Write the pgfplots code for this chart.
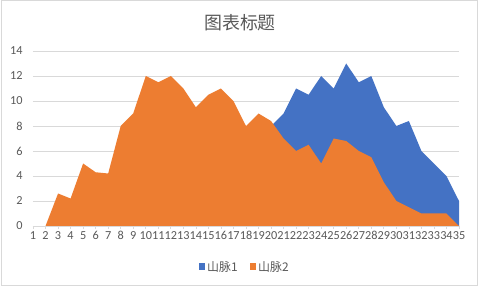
\documentclass[border=0pt]{standalone}
\usepackage{pgfplots}
\pgfplotsset{compat=1.18}
\usepackage{fontspec}
\setmainfont{Carlito}
\newfontfamily\cjk{Noto Sans CJK SC}
\definecolor{cblue}{HTML}{4472C4}
\definecolor{corange}{HTML}{ED7D31}
\definecolor{cgrid}{HTML}{D9D9D9}
\definecolor{ctext}{HTML}{595959}
\begin{document}
\begin{tikzpicture}
\useasboundingbox (0,0) rectangle (480bp,288bp);
\fill[white] (0,0) rectangle (480bp,288bp);
\draw[cgrid, line width=0.75bp] (1.5bp,3bp) rectangle (477.5bp,287.5bp);
\node[font=\cjk\fontsize{18}{20}\selectfont, text=ctext] at (240bp,265bp) {图表标题};
\begin{axis}[
  at={(33bp,62bp)}, anchor=south west,
  scale only axis, width=426bp, height=175bp,
  xmin=1, xmax=35, ymin=0, ymax=14,
  axis lines*=left,
  x axis line style={draw=cgrid, line width=0.75bp},
  y axis line style={draw=none},
  xtick={1,...,35},
  ytick={0,2,...,14},
  ymajorgrids, grid style={cgrid, line width=0.75bp},
  ytick style={draw=none},
  xtick style={draw=cgrid, line width=0.75bp},
  tick align=outside, major tick length=3bp,
  tick label style={font=\fontsize{12.3}{13}\selectfont, text=ctext},
  /pgf/number format/assume math mode=true,
  yticklabel style={xshift=-4bp},
  xticklabel style={yshift=-1bp, inner sep=1bp},
  legend style={at={(0.497,-0.234)}, anchor=center, draw=none, fill=none,
    legend columns=2, font=\cjk\fontsize{12}{14}\selectfont, text=ctext,
    /tikz/every even column/.append style={column sep=10bp}},
  legend image code/.code={\fill[#1] (0bp,-3bp) rectangle (6.5bp,3.5bp);},
]
\addplot[fill=cblue, draw=none] coordinates {
(1,0) (2,0) (3,0) (4,0) (5,0) (6,0) (7,0) (8,0) (9,0) (10,0)
(11,0) (12,0) (13,0) (14,0) (15,0) (16,0) (17,0) (18,0) (19,0) (20,8)
(21,9) (22,11) (23,10.5) (24,12) (25,11) (26,13) (27,11.5) (28,12) (29,9.5) (30,8)
(31,8.4) (32,6) (33,5) (34,4) (35,2)
} \closedcycle;
\addlegendentry{山脉1}
\addplot[fill=corange, draw=none] coordinates {
(1,0) (2,0) (3,2.6) (4,2.2) (5,5) (6,4.3) (7,4.2) (8,8) (9,9) (10,12)
(11,11.5) (12,12) (13,11) (14,9.5) (15,10.5) (16,11) (17,10) (18,8) (19,9) (20,8.4)
(21,7) (22,6) (23,6.5) (24,5) (25,7) (26,6.8) (27,6) (28,5.5) (29,3.5) (30,2)
(31,1.5) (32,1) (33,1) (34,1) (35,0)
} \closedcycle;
\addlegendentry{山脉2}
\end{axis}
\end{tikzpicture}
\end{document}
